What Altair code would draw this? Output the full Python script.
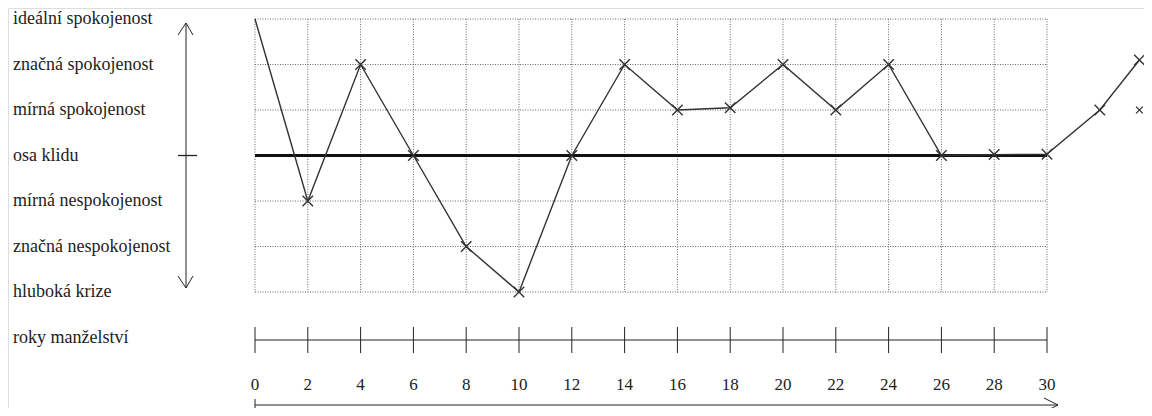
import altair as alt
import pandas as pd

# ---- data ----
years = [0, 2, 4, 6, 8, 10, 12, 14, 16, 18, 20, 22, 24, 26, 28, 30, 32, 33.5]
satisfaction = [3, -1, 2, 0, -2, -3, 0, 2, 1, 1.05, 2, 1, 2, 0, 0.02, 0.03, 1, 2.1]
stray_x = [33.5]
stray_y = [1]

level_labels = ["ideální spokojenost", "značná spokojenost", "mírná spokojenost",
                "osa klidu", "mírná nespokojenost", "značná nespokojenost", "hluboká krize"]
level_values = [3, 2, 1, 0, -1, -2, -3]
axis_label = "roky manželství"
tick_years = list(range(0, 31, 2))

FONT = "Liberation Serif"
INK = "#222222"
GRID = "#666666"

xs = alt.Scale(domain=[-9.356, 33.674], nice=False, zero=False)
ys = alt.Scale(domain=[-5.549, 3.242], nice=False, zero=False)

line_df = pd.DataFrame({"year": years, "value": satisfaction})
mark_df = line_df.iloc[1:]
stray_df = pd.DataFrame({"year": stray_x, "value": stray_y})
lev_df = pd.DataFrame({"label": level_labels, "value": level_values})
tick_df = pd.DataFrame({"year": tick_years, "lbl": [str(t) for t in tick_years]})
vgrid_df = pd.DataFrame({"year": tick_years, "top": 3, "bot": -3})
hgrid_df = pd.DataFrame({"value": level_values, "x0": 0, "x1": 30})

X = lambda f="year": alt.X(f, type="quantitative", scale=xs, axis=None)
Y = lambda f="value": alt.Y(f, type="quantitative", scale=ys, axis=None)

vgrid = alt.Chart(vgrid_df).mark_rule(color=GRID, strokeWidth=1, strokeDash=[1, 1.5]).encode(
    x=X(), y=Y("top"), y2="bot")
hgrid = alt.Chart(hgrid_df).mark_rule(color=GRID, strokeWidth=1, strokeDash=[1, 1.5]).encode(
    x=X("x0"), x2="x1", y=Y())
zero = alt.Chart(pd.DataFrame({"a": [0], "b": [30], "v": [0]})).mark_rule(
    color="#111111", strokeWidth=3.2).encode(x=X("a"), x2="b", y=Y("v"))

curve = alt.Chart(line_df).mark_line(color="#333333", strokeWidth=1.4).encode(
    x=X(), y=Y(), order="year")
XSHAPE = "M-1,-1L1,1M-1,1L1,-1"
marks = alt.Chart(mark_df).mark_point(shape=XSHAPE, filled=False, color="#333333",
                                      strokeWidth=1.4, size=110, opacity=1).encode(x=X(), y=Y())
stray = alt.Chart(stray_df).mark_point(shape=XSHAPE, filled=False, color="#333333",
                                       strokeWidth=1.3, size=45, opacity=1).encode(x=X(), y=Y())

labels = alt.Chart(lev_df).mark_text(align="left", baseline="middle", font=FONT,
                                     fontSize=18, color=INK).encode(
    x=alt.value(5), y=Y(), text="label")
axis_lab = alt.Chart(pd.DataFrame({"t": [axis_label]})).mark_text(
    align="left", baseline="middle", font=FONT, fontSize=18, color=INK).encode(
    x=alt.value(5), y=alt.value(330), text="t")

# vertical double arrow with tick at the rest axis
seg = pd.DataFrame({
    "x": [178, 170, 185, 170, 185],
    "y": [15, 27, 27, 268, 268],
    "x2": [178, 178, 178, 178, 178],
    "y2": [280, 15, 15, 280, 280],
})
arrows = alt.Chart(seg).mark_rule(color=INK, strokeWidth=1).encode(
    x=alt.X("x:Q", scale=None), y=alt.Y("y:Q", scale=None),
    x2="x2:Q", y2="y2:Q")
vtick = alt.Chart(pd.DataFrame({"v": [0]})).mark_rule(color=INK, strokeWidth=1.3).encode(
    x=alt.value(170), x2=alt.value(189), y=Y("v"))

# lower years axis
base_line = alt.Chart(pd.DataFrame({"a": [0], "b": [30]})).mark_rule(color=INK, strokeWidth=1).encode(
    x=X("a"), x2="b", y=alt.value(332))
ticks = alt.Chart(tick_df).mark_rule(color=INK, strokeWidth=1).encode(
    x=X(), y=alt.value(319), y2=alt.value(345))
nums = alt.Chart(tick_df).mark_text(font=FONT, fontSize=17, color=INK, baseline="middle").encode(
    x=X(), y=alt.value(377), text="lbl")

bseg = pd.DataFrame({
    "x": [247, 1036, 1036, 247],
    "y": [397, 390, 404, 391],
    "x2": [1050, 1050, 1050, 247],
    "y2": [397, 397, 397, 400],
})
barrow = alt.Chart(bseg).mark_rule(color=INK, strokeWidth=1).encode(
    x=alt.X("x:Q", scale=None), y=alt.Y("y:Q", scale=None),
    x2="x2:Q", y2="y2:Q")

chart = alt.layer(
    vgrid, hgrid, zero, curve, marks, stray, labels, axis_lab,
    arrows, vtick, base_line, ticks, nums, barrow
).resolve_scale(x="independent", y="independent").properties(
    width=1136, height=400, padding=0,
    autosize=alt.AutoSizeParams(type="none")
).configure_view(stroke=None).configure(background="white")

chart.save("out.html", embed_options={"renderer": "svg", "actions": False})
